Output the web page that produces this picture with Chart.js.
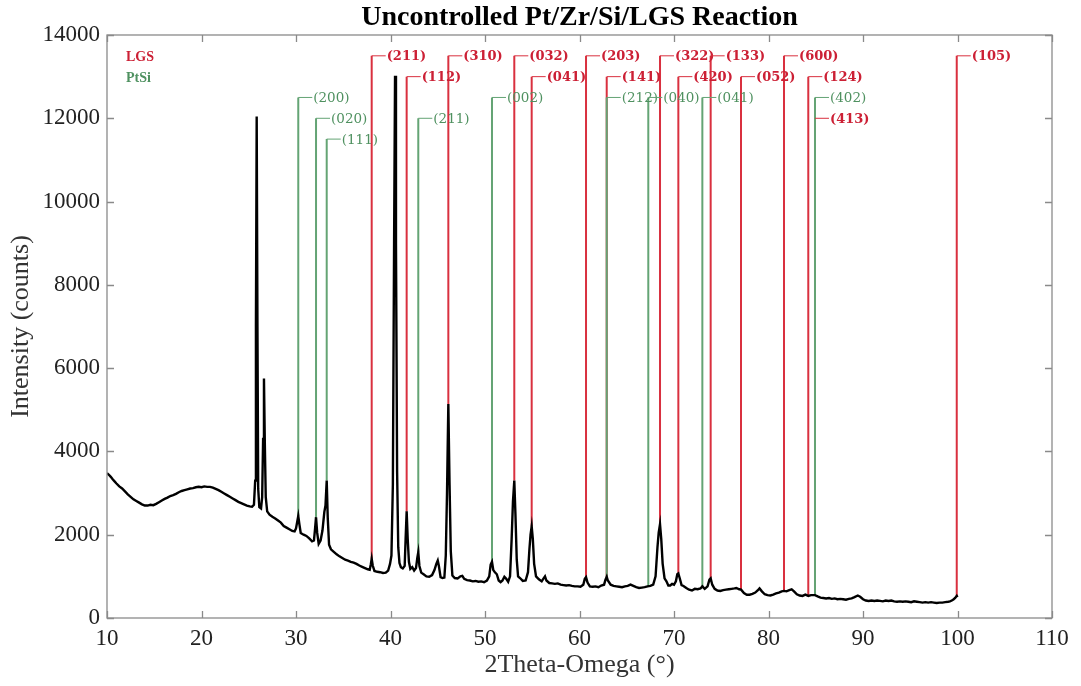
<!DOCTYPE html>
<html>
<head>
<meta charset="utf-8">
<script src="https://cdn.jsdelivr.net/npm/chart.js@4.4.1/dist/chart.umd.min.js"></script>
<style>
  html, body { margin: 0; padding: 0; background: #ffffff; }
  #wrap { width: 1081px; height: 686px; }
</style>
</head>
<body>
<div id="wrap"><canvas id="c" width="1081" height="686"></canvas></div>
<script>
// ---------- DATA ----------
const chartTitle = "Uncontrolled Pt/Zr/Si/LGS Reaction";
const xTitle = "2Theta-Omega (°)";
const yTitle = "Intensity (counts)";
const xTicks = [10, 20, 30, 40, 50, 60, 70, 80, 90, 100, 110];
const yTicks = [0, 2000, 4000, 6000, 8000, 10000, 12000, 14000];

const twoTheta = [
  10.0,10.2,10.4,10.6,10.8,11.0,11.3,11.6,11.9,12.2,12.5,12.8,13.1,13.4,13.7,14.0,14.3,14.6,14.9,15.2,
  15.5,15.8,16.1,16.4,16.7,17.0,17.3,17.6,17.9,18.2,18.5,18.8,19.1,19.4,19.7,20.0,20.3,20.6,20.9,21.2,
  21.5,21.8,22.1,22.4,22.7,23.0,23.3,23.6,23.9,24.2,24.5,24.8,25.1,25.35,25.55,25.68,25.76,25.84,25.92,26.0,
  26.12,26.3,26.42,26.52,26.61,26.7,26.8,26.95,27.2,27.5,27.8,28.1,28.4,28.7,29.0,29.3,29.6,29.85,30.0,30.12,
  30.24,30.36,30.5,30.8,31.1,31.4,31.7,31.9,32.02,32.12,32.24,32.4,32.6,32.8,33.0,33.12,33.25,33.36,33.5,33.7,
  34.0,34.3,34.6,34.9,35.2,35.5,35.8,36.1,36.4,36.7,37.0,37.3,37.6,37.8,37.92,38.01,38.12,38.3,38.6,38.9,
  39.2,39.5,39.75,39.95,40.1,40.25,40.38,40.48,40.58,40.7,40.82,40.95,41.1,41.3,41.5,41.6,41.71,41.82,41.95,42.1,
  42.3,42.5,42.7,42.84,42.94,43.06,43.25,43.5,43.8,44.1,44.4,44.65,44.85,45.0,45.12,45.3,45.5,45.7,45.85,45.98,
  46.12,46.25,46.38,46.55,46.8,47.1,47.4,47.6,47.8,48.1,48.4,48.7,49.0,49.3,49.6,49.9,50.2,50.45,50.6,50.74,
  50.88,51.05,51.25,51.45,51.65,51.85,52.05,52.25,52.45,52.65,52.82,52.96,53.1,53.22,53.36,53.5,53.7,54.0,54.3,54.55,
  54.7,54.82,54.94,55.06,55.2,55.4,55.7,56.0,56.2,56.35,56.5,56.8,57.1,57.4,57.7,58.0,58.3,58.6,58.9,59.2,
  59.5,59.8,60.1,60.4,60.56,60.69,60.85,61.1,61.4,61.7,62.0,62.3,62.6,62.75,62.88,63.0,63.3,63.6,63.9,64.2,
  64.5,64.8,65.1,65.4,65.7,66.0,66.3,66.6,66.9,67.2,67.5,67.8,68.05,68.25,68.38,68.52,68.65,68.8,69.0,69.2,
  69.4,69.6,69.8,70.0,70.2,70.35,70.46,70.6,70.8,71.0,71.3,71.6,71.9,72.2,72.5,72.8,73.0,73.25,73.55,73.75,
  73.88,74.05,74.3,74.6,74.9,75.2,75.5,75.8,76.1,76.4,76.6,76.9,77.1,77.4,77.7,78.0,78.3,78.6,78.85,79.05,
  79.3,79.6,79.9,80.2,80.5,80.8,81.1,81.4,81.64,81.9,82.2,82.45,82.7,83.0,83.3,83.6,83.9,84.21,84.5,84.92,
  85.2,85.5,85.8,86.1,86.4,86.7,87.0,87.3,87.6,87.9,88.2,88.5,88.8,89.1,89.45,89.7,90.0,90.3,90.6,90.9,
  91.2,91.5,91.8,92.1,92.4,92.7,93.0,93.3,93.6,93.9,94.2,94.5,94.8,95.1,95.4,95.7,96.0,96.3,96.6,96.9,
  97.2,97.5,97.8,98.1,98.4,98.7,99.0,99.2,99.4,99.6,99.75,99.92,100.0
];
const intensity = [
  3480,3440,3390,3330,3280,3230,3160,3110,3040,2970,2910,2850,2810,2770,2730,2700,2700,2720,2710,2740,
  2780,2820,2860,2890,2930,2950,2980,3020,3050,3070,3090,3110,3120,3140,3150,3140,3160,3150,3150,3130,
  3100,3070,3030,2990,2950,2910,2870,2830,2790,2760,2730,2700,2680,2670,2720,3300,7000,12040,7000,3100,
  2660,2630,2900,4300,5750,4200,2900,2560,2480,2430,2390,2340,2290,2210,2170,2130,2090,2080,2150,2300,
  2450,2250,2040,2000,1970,1910,1840,1860,2150,2420,2050,1780,1860,2100,2550,2700,3300,2400,1760,1650,
  1590,1530,1480,1440,1400,1380,1350,1330,1300,1260,1230,1200,1170,1160,1290,1420,1260,1130,1110,1100,
  1080,1090,1140,1300,1500,3200,9000,13020,9000,3500,1700,1320,1220,1190,1250,1900,2560,1900,1350,1180,
  1220,1140,1200,1450,1580,1250,1090,1050,1000,990,1030,1150,1300,1380,1250,980,960,970,1500,3000,
  5140,3200,1600,1020,960,950,1000,1010,940,910,900,880,890,870,880,860,900,1000,1280,1350,
  1150,1100,1050,900,860,900,990,940,870,1000,1900,2800,3300,2500,1400,1000,960,890,900,1100,
  1650,2000,2200,1900,1300,1000,930,880,950,1000,900,840,830,820,830,800,790,780,790,770,
  760,760,750,800,940,980,850,760,750,760,740,780,800,920,990,900,800,770,760,750,
  740,760,770,800,770,740,720,730,740,760,770,800,1000,1700,2050,2250,1900,1300,950,880,
  780,780,820,800,880,1050,1070,960,790,770,720,680,660,700,690,710,760,700,760,920,
  950,800,700,660,650,670,680,690,700,710,720,690,680,600,560,560,580,610,660,710,
  640,570,550,540,560,590,610,640,650,640,670,690,640,570,540,530,560,530,550,550,
  520,490,480,470,480,460,470,450,460,450,440,460,470,500,540,510,450,420,410,420,
  410,420,410,400,420,410,420,400,390,400,390,400,390,380,400,390,380,370,380,370,
  380,370,360,370,370,380,390,400,420,450,480,530,500
];

// LGS reference reflections
const lgsLabels = ["(211)","(112)","(310)","(032)","(041)","(203)","(141)","(322)","(420)","(133)","(052)","(600)","(124)","(413)","(105)"];
const lgsPos    = [38.01, 41.71, 46.12, 53.10, 54.94, 60.69, 62.88, 68.52, 70.46, 73.88, 77.09, 81.64, 84.21, 84.92, 99.92];
const lgsBase   = [1420, 2560, 5140, 3300, 2200, 980, 990, 2250, 1070, 950, 680, 650, 530, 550, 530];
const lgsLevel  = [13500, 13000, 13500, 13500, 13000, 13500, 13000, 13500, 13000, 13500, 13000, 13500, 13000, 12000, 13500];

// PtSi reference reflections
const ptsiLabels = ["(200)","(020)","(111)","(211)","(002)","(212)","(040)","(041)","(402)"];
const ptsiPos    = [30.24, 32.12, 33.25, 42.94, 50.74, 62.88, 67.28, 73.00, 84.92];
const ptsiBase   = [2450, 2420, 3300, 1580, 1350, 990, 760, 760, 550];
const ptsiLevel  = [12500, 12000, 11500, 12000, 12500, 12500, 12500, 12500, 12500];

const legendNames = ["LGS", "PtSi"];

// ---------- STYLE ----------
const RED_LINE = "#d9303f";
const RED_TEXT = "#cc2035";
const GREEN_LINE = "#64a474";
const GREEN_TEXT = "#4f9160";
const FRAME = "#8a8a8a";
const SERIF = "'Liberation Serif', 'Times New Roman', serif";
const LABEL_SERIF = "'DejaVu Serif', serif";

// ---------- BUILD ----------
const curve = twoTheta.map((x, i) => ({ x: x, y: intensity[i] }));
const datasets = [];
datasets.push({
  label: "XRD", data: curve, borderColor: "#000000", borderWidth: 2.4,
  pointRadius: 0, showLine: true, tension: 0, order: 0
});
ptsiPos.forEach((x, i) => datasets.push({
  label: "PtSi " + ptsiLabels[i],
  data: [{ x: x, y: ptsiBase[i] }, { x: x, y: ptsiLevel[i] }],
  borderColor: GREEN_LINE, borderWidth: 2, pointRadius: 0, showLine: true, order: 1
}));
lgsPos.forEach((x, i) => datasets.push({
  label: "LGS " + lgsLabels[i],
  data: [{ x: x, y: lgsBase[i] }, { x: x, y: lgsLevel[i] }],
  borderColor: RED_LINE, borderWidth: 2, pointRadius: 0, showLine: true, order: 2
}));

const framePlugin = {
  id: "frameTicks",
  afterDraw(chart) {
    const { ctx, chartArea: a, scales } = chart;
    ctx.save();
    ctx.strokeStyle = FRAME;
    ctx.lineWidth = 1.3;
    ctx.strokeRect(a.left, a.top, a.right - a.left, a.bottom - a.top);
    ctx.beginPath();
    xTicks.forEach(v => {
      const px = Math.round(scales.x.getPixelForValue(v)) + 0.5;
      ctx.moveTo(px, a.bottom); ctx.lineTo(px, a.bottom - 7);
      ctx.moveTo(px, a.top); ctx.lineTo(px, a.top + 7);
    });
    yTicks.forEach(v => {
      const py = Math.round(scales.y.getPixelForValue(v)) + 0.5;
      ctx.moveTo(a.left, py); ctx.lineTo(a.left + 7, py);
      ctx.moveTo(a.right, py); ctx.lineTo(a.right - 7, py);
    });
    ctx.stroke();
    // chart title centred over the plot area
    ctx.font = "bold 28px " + SERIF;
    ctx.fillStyle = "#000";
    ctx.textAlign = "center";
    ctx.textBaseline = "middle";
    ctx.fillText(chartTitle, (a.left + a.right) / 2, 18);
    ctx.restore();
  }
};

const labelPlugin = {
  id: "refLabels",
  afterDatasetsDraw(chart) {
    const { ctx, chartArea: a, scales } = chart;
    ctx.save();
    ctx.textBaseline = "middle";
    ctx.textAlign = "left";
    const draw = (labels, pos, level, lineCol, textCol, font) => {
      labels.forEach((t, i) => {
        const px = scales.x.getPixelForValue(pos[i]);
        const py = scales.y.getPixelForValue(level[i]);
        ctx.strokeStyle = lineCol;
        ctx.lineWidth = 1;
        ctx.beginPath();
        ctx.moveTo(px, py); ctx.lineTo(px + 14, py);
        ctx.stroke();
        ctx.font = font;
        ctx.fillStyle = textCol;
        ctx.fillText(t, px + 15, py + 1);
      });
    };
    draw(ptsiLabels, ptsiPos, ptsiLevel, GREEN_LINE, GREEN_TEXT, "13.5px " + LABEL_SERIF);
    draw(lgsLabels, lgsPos, lgsLevel, RED_LINE, RED_TEXT, "bold 13px " + LABEL_SERIF);
    // legend text
    ctx.font = "bold 14px " + SERIF;
    ctx.fillStyle = RED_TEXT;
    ctx.fillText(legendNames[0], a.left + 19, a.top + 22);
    ctx.fillStyle = GREEN_TEXT;
    ctx.fillText(legendNames[1], a.left + 19, a.top + 43);
    ctx.restore();
  }
};

new Chart(document.getElementById("c"), {
  type: "scatter",
  data: { datasets: datasets },
  options: {
    responsive: false,
    animation: false,
    devicePixelRatio: 1,
    layout: { padding: { left: 0, right: 29, top: 35, bottom: 0 } },
    plugins: {
      legend: { display: false },
      tooltip: { enabled: false },
      title: { display: false }
    },
    scales: {
      x: {
        type: "linear", min: 10, max: 110,
        afterBuildTicks: s => { s.ticks = xTicks.map(v => ({ value: v })); },
        afterFit: s => { s.height = 68; },
        grid: { display: false, drawTicks: false },
        border: { display: false },
        ticks: { color: "#222", font: { family: SERIF, size: 23 }, padding: 7, maxRotation: 0,
                 callback: v => String(v) },
        title: { display: true, text: xTitle, color: "#333", font: { family: SERIF, size: 26 }, padding: { top: 0, bottom: 5 } }
      },
      y: {
        type: "linear", min: 0, max: 14000,
        afterBuildTicks: s => { s.ticks = yTicks.map(v => ({ value: v })); },
        afterFit: s => { s.width = 107; },
        grid: { display: false, drawTicks: false },
        border: { display: false },
        ticks: { color: "#222", font: { family: SERIF, size: 23 }, padding: 7,
                 callback: v => String(v) },
        title: { display: true, text: yTitle, color: "#333", font: { family: SERIF, size: 26 }, padding: { top: 6, bottom: 0 } }
      }
    }
  },
  plugins: [framePlugin, labelPlugin]
});
</script>
</body>
</html>
